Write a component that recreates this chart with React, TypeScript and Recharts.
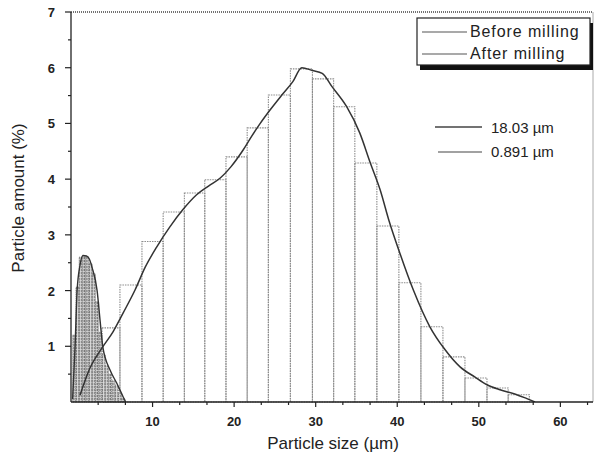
import React from "react";
import { ComposedChart, Line, XAxis, YAxis, ReferenceArea, ReferenceLine } from "recharts";

// before milling histogram: bin edges (µm) and heights (%)
const BEFORE_EDGES = [3.8, 6.0, 8.7, 11.3, 13.9, 16.4, 19.0, 21.6, 24.2, 26.9, 29.6, 32.2, 34.8, 37.5, 40.2, 42.9, 45.6, 48.3, 51.0, 53.6, 56.2];
const BEFORE_BARS = [1.33, 2.1, 2.88, 3.41, 3.75, 3.99, 4.4, 4.92, 5.51, 5.98, 5.8, 5.3, 4.29, 3.16, 2.14, 1.35, 0.81, 0.43, 0.25, 0.13];

// after milling histogram
const AFTER_EDGES = [0.2, 0.6, 1.0, 1.4, 1.8, 2.2, 2.6, 3.0, 3.4, 3.8, 4.2, 4.6, 5.0, 5.4, 5.8, 6.2, 6.6];
const AFTER_BARS = [1.2, 2.06, 2.6, 2.62, 2.6, 2.48, 2.3, 1.8, 1.25, 0.85, 0.65, 0.5, 0.38, 0.3, 0.15, 0.06];

// fitted curves
const BEFORE_CURVE_X = [1.1, 2.3, 3.8, 5.15, 6.4, 7.85, 9.1, 10.5, 12.1, 13.7, 15.4, 16.9, 18.3, 19.6, 21.0, 22.2, 23.2, 24.4, 25.8, 27.2, 28.3, 29.6, 30.8, 32.0, 33.8, 35.4, 36.7, 37.9, 39.0, 40.3, 42.0, 44.0, 45.8, 47.7, 49.5, 51.0, 52.6, 54.5, 55.9, 56.9];
const BEFORE_CURVE_Y = [0.12, 0.6, 0.97, 1.26, 1.6, 2.01, 2.42, 2.78, 3.14, 3.45, 3.72, 3.88, 4.02, 4.22, 4.5, 4.78, 5.0, 5.24, 5.5, 5.75, 6.0, 5.95, 5.9, 5.66, 5.3, 4.83, 4.29, 3.81, 3.25, 2.68, 2.0, 1.35, 0.95, 0.63, 0.45, 0.31, 0.22, 0.14, 0.06, 0];
const AFTER_CURVE_X = [0.2, 0.5, 0.75, 1.1, 1.47, 1.9, 2.3, 2.57, 3.2, 3.56, 3.9, 4.8, 5.6, 6.4, 6.7];
const AFTER_CURVE_Y = [0.05, 1.0, 2.0, 2.45, 2.63, 2.62, 2.55, 2.42, 2.0, 1.47, 0.99, 0.57, 0.34, 0.09, 0];

const X_TICKS = [10, 20, 30, 40, 50, 60];
const X_MINOR = [3.33, 6.67, 13.33, 16.67, 23.33, 26.67, 33.33, 36.67, 43.33, 46.67, 53.33, 56.67, 63.33];
const Y_TICKS = [1, 2, 3, 4, 5, 6, 7];
const Y_MINOR = [0.5, 1.5, 2.5, 3.5, 4.5, 5.5, 6.5];

const beforeCurve = BEFORE_CURVE_X.map((x, i) => ({ x, y: BEFORE_CURVE_Y[i] }));
const afterCurve = AFTER_CURVE_X.map((x, i) => ({ x, y: AFTER_CURVE_Y[i] }));
const xAllTicks = [...X_TICKS, ...X_MINOR].sort((a, b) => a - b);
const yAllTicks = [...Y_TICKS, ...Y_MINOR].sort((a, b) => a - b);

const FONT = "'Liberation Sans', Arial, sans-serif";

// tick mark + label drawn together so minor ticks get shorter marks
function XTick(props: any) {
    const { x, y, payload } = props;
    const major = X_TICKS.includes(payload.value);
    return (
        <g>
            <line x1={x} y1={y} x2={x} y2={y + (major ? 5 : 3)} stroke="#222" strokeWidth={1.2} />
            {major && (
                <text x={x} y={y + 24} textAnchor="middle" fontSize={13} fontWeight={700}
                    fontFamily={FONT} fill="#222">{payload.value}</text>
            )}
        </g>
    );
}

function YTick(props: any) {
    const { x, y, payload } = props;
    const major = Y_TICKS.includes(payload.value);
    return (
        <g>
            <line x1={x - (major ? 6 : 3)} y1={y} x2={x} y2={y} stroke="#222" strokeWidth={1.2} />
            {major && (
                <text x={x - 16} y={y + 5} textAnchor="end" fontSize={13} fontWeight={700}
                    fontFamily={FONT} fill="#222">{payload.value}</text>
            )}
        </g>
    );
}

export default function App() {
    return (
        <div style={{ position: "absolute", left: 0, top: 0, width: 598, height: 463, background: "#fff" }}>
            <svg width={0} height={0} style={{ position: "absolute" }}>
                <defs>
                    <pattern id="afterHatch" patternUnits="userSpaceOnUse" width={2.6} height={3}>
                        <rect width={2.6} height={3} fill="#dcdcdc" />
                        <line x1={1} y1={0} x2={1} y2={3} stroke="#4a4a4a" strokeWidth={0.9} strokeDasharray="1.2 0.8" />
                    </pattern>
                </defs>
            </svg>
            <ComposedChart width={598} height={463} margin={{ top: 12, right: 5, bottom: 0, left: 0 }}>
                <XAxis type="number" dataKey="x" domain={[0, 64]} ticks={xAllTicks} interval={0}
                    height={61} tickSize={0} tickMargin={0} tickLine={false} tick={<XTick />}
                    stroke="#222" strokeWidth={1.3} allowDataOverflow />
                <YAxis type="number" domain={[0, 7]} ticks={yAllTicks} interval={0}
                    width={71} tickSize={0} tickMargin={0} tickLine={false} tick={<YTick />}
                    stroke="#222" strokeWidth={1.3} allowDataOverflow />

                <ReferenceLine y={7} stroke="#444" strokeWidth={1.3} strokeDasharray="1 1" />
                <ReferenceLine x={64} stroke="#aaa" strokeWidth={1} />

                {BEFORE_BARS.map((v, i) => (
                    <ReferenceArea key={"b" + i} x1={BEFORE_EDGES[i]} x2={BEFORE_EDGES[i + 1]} y1={0} y2={v}
                        fill="#fff" fillOpacity={0} stroke="#8c8c8c" strokeWidth={1.1} strokeDasharray="1.5 1" />
                ))}
                {AFTER_BARS.map((v, i) => (
                    <ReferenceArea key={"a" + i} x1={AFTER_EDGES[i]} x2={AFTER_EDGES[i + 1]} y1={0} y2={v}
                        fill="url(#afterHatch)" fillOpacity={1} stroke="#666" strokeWidth={0.8} strokeDasharray="1 1" />
                ))}

                <Line data={beforeCurve} dataKey="y" type="monotone" stroke="#333" strokeWidth={1.5}
                    dot={false} isAnimationActive={false} />
                <Line data={afterCurve} dataKey="y" type="monotone" stroke="#333" strokeWidth={1.4}
                    dot={false} isAnimationActive={false} />
            </ComposedChart>

            <svg width={598} height={463} style={{ position: "absolute", left: 0, top: 0, pointerEvents: "none" }}>
                <text transform="translate(24,198) rotate(-90)" textAnchor="middle" fontSize={17}
                    fontFamily={FONT} fill="#222">Particle amount (%)</text>
                <text x={333} y={449} textAnchor="middle" fontSize={17} fontFamily={FONT} fill="#222">
                    Particle size (µm)
                </text>

                {/* legend box with drop shadow */}
                <rect x={420} y={23} width={173} height={47} fill="#111" />
                <rect x={417} y={18} width={173} height={47} fill="#fff" stroke="#222" strokeWidth={1.2} />
                <line x1={422} y1={32} x2={467} y2={32} stroke="#555" strokeWidth={1.1} />
                <text x={470} y={37} fontSize={16} letterSpacing={0.9} fontFamily={FONT} fill="#222">Before milling</text>
                <line x1={422} y1={54} x2={467} y2={54} stroke="#555" strokeWidth={1.1} />
                <text x={470} y={59} fontSize={16} letterSpacing={0.9} fontFamily={FONT} fill="#222">After milling</text>

                <line x1={435} y1={127} x2={482} y2={127} stroke="#444" strokeWidth={1.3} />
                <text x={491} y={133} fontSize={15} fontFamily={FONT} fill="#222">18.03 µm</text>
                <line x1={438} y1={152} x2={482} y2={152} stroke="#444" strokeWidth={1.1} />
                <text x={491} y={157} fontSize={15} fontFamily={FONT} fill="#222">0.891 µm</text>
            </svg>
        </div>
    );
}
